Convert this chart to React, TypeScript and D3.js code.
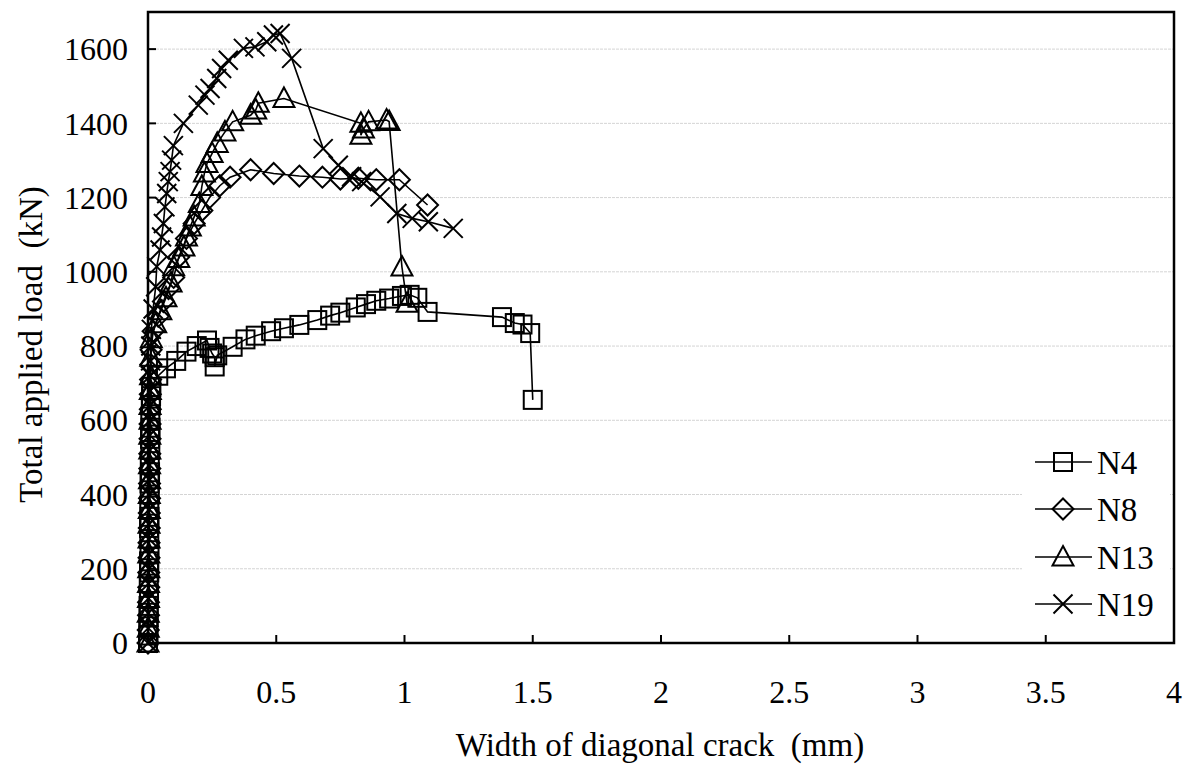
import React from "react";
import * as d3 from "d3";

const yTicks = [0, 200, 400, 600, 800, 1000, 1200, 1400, 1600];
const xTicks = [0, 0.5, 1, 1.5, 2, 2.5, 3, 3.5, 4];
const xTickLabels = ["0", "0.5", "1", "1.5", "2", "2.5", "3", "3.5", "4"];

const n4W = [0, 0.002, 0.001, 0.003, 0.002, 0.004, 0.003, 0.005, 0.004, 0.006, 0.005, 0.004, 0.006, 0.005, 0.007, 0.006, 0.008, 0.007, 0.009, 0.008, 0.01, 0.009, 0.011, 0.012, 0.013,
  0.04, 0.07, 0.11, 0.15, 0.19, 0.23, 0.24, 0.25, 0.26, 0.26, 0.27, 0.33, 0.38, 0.42, 0.48, 0.53, 0.59, 0.66, 0.71, 0.75, 0.81, 0.85, 0.89, 0.94, 0.99, 1.02, 1.05, 1.09, 1.38, 1.43, 1.46, 1.49, 1.5];
const n4L = [0, 20, 45, 70, 100, 130, 160, 190, 220, 250, 280, 310, 340, 370, 400, 430, 460, 490, 520, 550, 580, 610, 640, 665, 690,
  720, 740, 760, 785, 800, 815, 795, 780, 770, 745, 775, 798, 818, 828, 840, 848, 857, 870, 882, 890, 904, 913, 922, 928, 935, 938, 930, 892, 878, 862, 858, 835, 655];

const n8W = [0, 0.001, 0.002, 0.002, 0.003, 0.003, 0.004, 0.004, 0.005, 0.005, 0.006, 0.006, 0.007, 0.007, 0.008, 0.008, 0.009, 0.009, 0.01, 0.011, 0.012,
  0.02, 0.04, 0.06, 0.08, 0.1, 0.12, 0.15, 0.18, 0.21, 0.24, 0.28, 0.32, 0.4, 0.49, 0.59, 0.68, 0.75, 0.82, 0.89, 0.98, 1.09];
const n8L = [0, 35, 75, 110, 150, 190, 230, 270, 310, 350, 390, 430, 470, 510, 550, 590, 630, 670, 710, 750, 790,
  840, 880, 920, 955, 985, 1040, 1090, 1130, 1165, 1200, 1232, 1255, 1275, 1265, 1258, 1255, 1250, 1252, 1248, 1248, 1180];

const n13W = [0, 0.001, 0.001, 0.002, 0.002, 0.003, 0.003, 0.004, 0.004, 0.005, 0.005, 0.006, 0.006, 0.007, 0.007, 0.008, 0.008, 0.009, 0.01, 0.011, 0.013,
  0.03, 0.05, 0.07, 0.09, 0.1, 0.12, 0.14, 0.15, 0.165, 0.18, 0.2, 0.21, 0.22, 0.23, 0.25, 0.27, 0.3, 0.33, 0.4, 0.42, 0.43, 0.53, 0.83, 0.83, 0.84, 0.86, 0.93, 0.94, 0.99, 1.01];
const n13L = [0, 40, 80, 120, 160, 200, 240, 280, 320, 360, 400, 440, 480, 520, 560, 600, 640, 680, 720, 770, 820,
  860, 895, 930, 970, 1014, 1036, 1067, 1094, 1121, 1148, 1184, 1230, 1266, 1292, 1319, 1346, 1377, 1404, 1422, 1436, 1454, 1467, 1400, 1368, 1385, 1404, 1409, 1405, 1013, 915];

const n19W = [0, 0.001, 0.001, 0.002, 0.002, 0.003, 0.003, 0.004, 0.004, 0.005, 0.005, 0.006, 0.006, 0.007, 0.007, 0.008, 0.008, 0.009, 0.009, 0.01, 0.011, 0.013,
  0.02, 0.03, 0.034, 0.047, 0.053, 0.06, 0.066, 0.073, 0.079, 0.086, 0.092, 0.099, 0.138, 0.196, 0.222, 0.242, 0.268, 0.287, 0.313, 0.372, 0.417, 0.463, 0.489, 0.515, 0.56, 0.683, 0.742, 0.794, 0.833, 0.905, 0.97, 1.03, 1.093, 1.19];
const n19L = [0, 40, 80, 120, 160, 200, 240, 280, 320, 360, 400, 440, 480, 520, 560, 600, 640, 680, 720, 760, 800, 845,
  900, 960, 1014, 1059, 1094, 1130, 1175, 1211, 1243, 1270, 1301, 1340, 1400, 1449, 1476, 1494, 1521, 1548, 1570, 1602, 1606, 1620, 1638, 1642, 1575, 1332, 1287, 1256, 1243, 1202, 1157, 1144, 1135, 1117];

const seriesNames = ["N4", "N8", "N13", "N19"];
const seriesW = [n4W, n8W, n13W, n19W];
const seriesL = [n4L, n8L, n13L, n19L];
const seriesMarker = ["square", "diamond", "triangle", "cross"];

const FONT = "'Liberation Serif', 'Times New Roman', serif";

function Marker({ type, x, y }: { type: string; x: number; y: number }) {
  const sw = 2;
  if (type === "square") {
    return <rect x={x - 9} y={y - 9} width={18} height={18} fill="none" stroke="#000" strokeWidth={sw} />;
  }
  if (type === "diamond") {
    const r = 10.5;
    return <path d={`M${x},${y - r}L${x + r},${y}L${x},${y + r}L${x - r},${y}Z`} fill="none" stroke="#000" strokeWidth={sw} />;
  }
  if (type === "triangle") {
    return <path d={`M${x},${y - 11}L${x + 10.5},${y + 8.5}L${x - 10.5},${y + 8.5}Z`} fill="none" stroke="#000" strokeWidth={sw} />;
  }
  const r = 9.5;
  return <path d={`M${x - r},${y - r}L${x + r},${y + r}M${x - r},${y + r}L${x + r},${y - r}`} fill="none" stroke="#000" strokeWidth={sw} />;
}

export default function App() {
  const left = 148, right = 1174, top = 12, bottom = 643;
  const x = d3.scaleLinear().domain([0, 4]).range([left, right]);
  const y = d3.scaleLinear().domain([0, 1700]).range([bottom, top]);
  const line = d3.line<[number, number]>().x((d) => x(d[0])).y((d) => y(d[1]));

  const legX = 1035, legY = [462, 509, 557, 604];

  return (
    <svg width={1190} height={769} style={{ position: "absolute", left: 0, top: 0, background: "#fff" }} fontFamily={FONT}>
      <rect x={0} y={0} width={1190} height={769} fill="#fff" />
      {yTicks.filter((t) => t > 0).map((t) => (
        <line key={"g" + t} x1={left} x2={right} y1={y(t)} y2={y(t)} stroke="#d4d4d4" strokeWidth={1} strokeDasharray="3,1" />
      ))}
      <rect x={1022} y={436} width={148} height={194} fill="#fff" />
      {seriesW.map((ws, i) => {
        const pts: [number, number][] = ws.map((w, j) => [w, seriesL[i][j]]);
        return (
          <g key={seriesNames[i]}>
            <path d={line(pts) || ""} fill="none" stroke="#000" strokeWidth={1.6} />
            {pts.map((p, j) => (
              <Marker key={j} type={seriesMarker[i]} x={x(p[0])} y={y(p[1])} />
            ))}
          </g>
        );
      })}
      <rect x={left} y={top} width={right - left} height={bottom - top} fill="none" stroke="#000" strokeWidth={2.5} />
      {yTicks.map((t) => (
        <g key={"y" + t}>
          <line x1={left} x2={left + 8} y1={y(t)} y2={y(t)} stroke="#000" strokeWidth={2} />
          <text x={128} y={y(t)} dy="0.35em" textAnchor="end" fontSize={32}>{t}</text>
        </g>
      ))}
      {xTicks.map((t, i) => (
        <g key={"x" + t}>
          <line x1={x(t)} x2={x(t)} y1={bottom} y2={bottom - 8} stroke="#000" strokeWidth={2} />
          <text x={x(t)} y={703} textAnchor="middle" fontSize={32}>{xTickLabels[i]}</text>
        </g>
      ))}
      <text x={660} y={756} textAnchor="middle" fontSize={33} style={{ whiteSpace: "pre" }}>Width of diagonal crack  (mm)</text>
      <text transform={`translate(42,${(top + bottom) / 2 + 17}) rotate(-90)`} textAnchor="middle" fontSize={33} style={{ whiteSpace: "pre" }}>Total applied load  (kN)</text>
      {seriesNames.map((n, i) => (
        <g key={"leg" + n}>
          <line x1={legX} x2={legX + 57} y1={legY[i]} y2={legY[i]} stroke="#000" strokeWidth={1.6} />
          <Marker type={seriesMarker[i]} x={legX + 28} y={legY[i]} />
          <text x={legX + 62} y={legY[i]} dy="0.35em" fontSize={33}>{n}</text>
        </g>
      ))}
    </svg>
  );
}
